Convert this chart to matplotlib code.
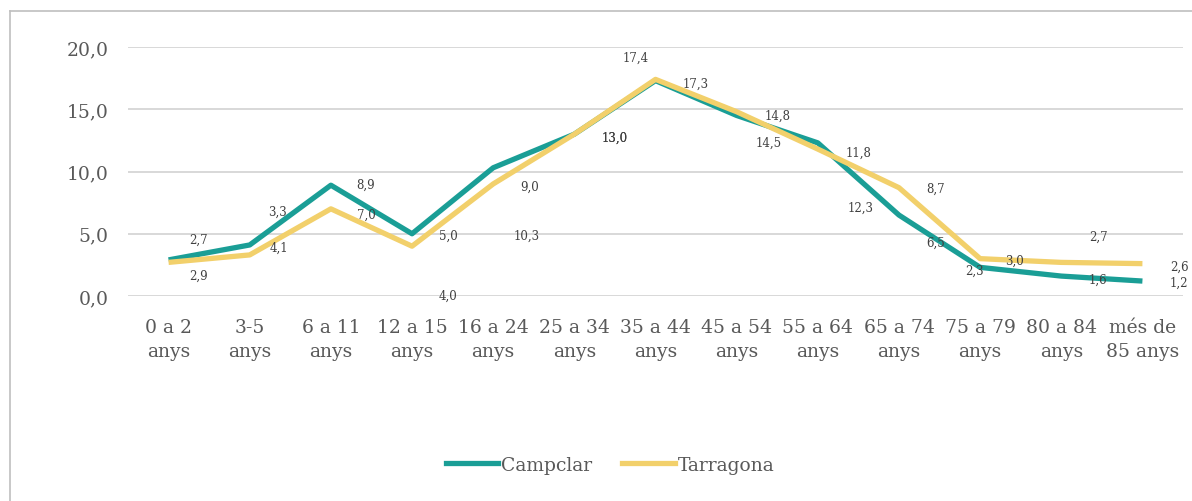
import matplotlib
matplotlib.use("Agg")
import matplotlib.pyplot as plt
from matplotlib.lines import Line2D

categories = ["0 a 2\nanys", "3-5\nanys", "6 a 11\nanys", "12 a 15\nanys", "16 a 24\nanys",
              "25 a 34\nanys", "35 a 44\nanys", "45 a 54\nanys", "55 a 64\nanys",
              "65 a 74\nanys", "75 a 79\nanys", "80 a 84\nanys", "més de\n85 anys"]
campclar = [2.9, 4.1, 8.9, 5.0, 10.3, 13.0, 17.3, 14.5, 12.3, 6.5, 2.3, 1.6, 1.2]
tarragona = [2.7, 3.3, 7.0, 4.0, 9.0, 13.0, 17.4, 14.8, 11.8, 8.7, 3.0, 2.7, 2.6]
yticks = [0, 5, 10, 15, 20]
ytick_labels = ["0,0", "5,0", "10,0", "15,0", "20,0"]

# label offsets in pixels (dx right, dy down)
camp_off = [(30, 15), (29, 2), (35, -1), (36, 2), (33, 68), (40, 3), (40, 3),
            (32, 27), (43, 64), (37, 27), (-6, 3), (37, 3), (36, 1)]
tarr_off = [(30, -23), (28, -44), (35, 5), (36, 49), (36, 2), (40, 3), (-20, -22),
            (41, 4), (41, 3), (37, 1), (34, 2), (37, -26), (37, 3)]

TEAL = "#1A9E96"
YELLOW = "#F2D06B"
GREY = "#595959"
LABEL = "#404040"
W, H = 1192, 502
plt.rcParams['font.family'] = ['DejaVu Serif']

fig = plt.figure(figsize=(W / 100, H / 100), dpi=100)
ax = fig.add_axes([128 / W, 1 - 297 / H, (1183 - 128) / W, (297 - 48) / H])

x = list(range(len(categories)))
ax.plot(x, campclar, color=TEAL, lw=3.8, solid_joinstyle='round', solid_capstyle='butt', zorder=3)
ax.plot(x, tarragona, color=YELLOW, lw=3.8, solid_joinstyle='round', solid_capstyle='butt', zorder=4)

def fmt(v):
    return f"{v:.1f}".replace(".", ",")

for xi, v, (dx, dy) in zip(x, campclar, camp_off):
    ax.annotate(fmt(v), (xi, v), xytext=(dx * 0.72, -dy * 0.72), textcoords='offset points',
                ha='center', va='center', fontsize=8.5, color=LABEL, zorder=5)
for xi, v, (dx, dy) in zip(x, tarragona, tarr_off):
    ax.annotate(fmt(v), (xi, v), xytext=(dx * 0.72, -dy * 0.72), textcoords='offset points',
                ha='center', va='center', fontsize=8.5, color=LABEL, zorder=5)

ax.set_xlim(-0.5, len(categories) - 0.5)
ax.set_ylim(0, 20)
ax.set_yticks(yticks)
ax.set_yticklabels(ytick_labels)
ax.set_xticks(x)
ax.set_xticklabels(categories, linespacing=1.4)
ax.tick_params(axis='both', length=0, labelsize=13.5, colors=GREY)
ax.tick_params(axis='y', pad=14)
ax.tick_params(axis='x', pad=16)
ax.grid(axis='y', color="#d6d6d6", lw=1.3)
ax.set_axisbelow(True)
for s in ax.spines.values():
    s.set_visible(False)

handles = [Line2D([], [], color=TEAL, lw=3.8), Line2D([], [], color=YELLOW, lw=3.8)]
leg = fig.legend(handles, ["Campclar", "Tarragona"], loc='center', bbox_to_anchor=(610 / W, 1 - 466 / H),
                 ncol=2, frameon=False, fontsize=13.5, handlelength=2.8, handletextpad=0.15,
                 columnspacing=1.6)
for t in leg.get_texts():
    t.set_color(GREY)

# outer border (top and left visible)
fig.add_artist(Line2D([10 / W, 1], [1 - 12 / H, 1 - 12 / H], transform=fig.transFigure, color="#bfbfbf", lw=1.2))
fig.add_artist(Line2D([10 / W, 10 / W], [0, 1 - 12 / H], transform=fig.transFigure, color="#bfbfbf", lw=1.2))

fig.savefig("out.png", dpi=100, facecolor="white")
